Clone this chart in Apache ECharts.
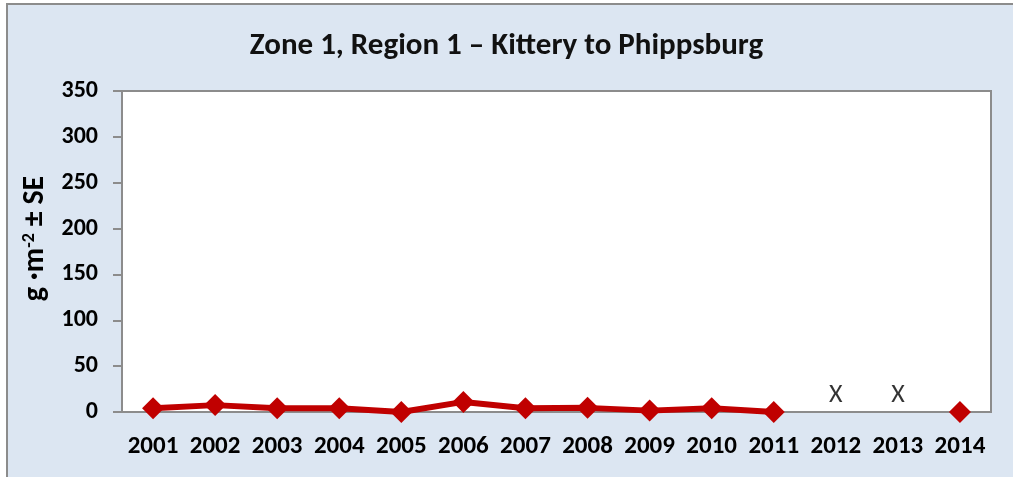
<!DOCTYPE html>
<html>
<head>
<meta charset="utf-8">
<script src="https://cdn.jsdelivr.net/npm/echarts@6/dist/echarts.min.js"></script>
<style>
html,body{margin:0;padding:0;background:#fff;}
#c{width:1013px;height:477px;}
</style>
</head>
<body>
<div id="c"></div>
<script>
const titleText = 'Zone 1, Region 1 \u2013 Kittery to Phippsburg';
const years = ['2001','2002','2003','2004','2005','2006','2007','2008','2009','2010','2011','2012','2013','2014'];
const biomass = [4, 7.5, 4, 4, 0, 11, 4, 4.5, 1.5, 4, 0, null, null, 0];
const noSampleMarks = [null, null, null, null, null, null, null, null, null, null, null, 18, 18, null];
const yTicks = [0, 50, 100, 150, 200, 250, 300, 350];

const FONT = 'Carlito, Lato, "Liberation Sans", sans-serif';
const chart = echarts.init(document.getElementById('c'), null, {renderer: 'canvas'});
chart.setOption({
  backgroundColor: '#ffffff',
  animation: false,
  graphic: [{
    type: 'rect', z: -10, silent: true,
    shape: {x: 7, y: 4, width: 1020, height: 490},
    style: {fill: '#DCE6F2', stroke: '#8C8C8C', lineWidth: 2}
  }],
  title: {
    text: titleText, left: 'center', top: 26,
    textStyle: {fontFamily: FONT, fontWeight: 'bold', fontSize: 31, color: '#111'}
  },
  grid: {left: 122, right: 22, top: 91, bottom: 65, show: true, backgroundColor: '#ffffff', borderColor: '#8C8C8C', borderWidth: 2},
  xAxis: {
    type: 'category', data: years, boundaryGap: true,
    axisLine: {show: true, lineStyle: {color: '#8C8C8C', width: 2}},
    axisTick: {show: false},
    axisLabel: {interval: 0, fontFamily: FONT, fontWeight: 'bold', fontSize: 25, color: '#000', margin: 22}
  },
  yAxis: {
    type: 'value', min: yTicks[0], max: yTicks[yTicks.length - 1], interval: 50,
    name: '{a|g \u00B7m}{s|-2}{a| \u00B1 SE}',
    nameLocation: 'middle', nameGap: 72, nameRotate: 90,
    nameTextStyle: {
      padding: [0, 0, 0, 26],
      rich: {
        a: {fontFamily: FONT, fontWeight: 'bold', fontSize: 30, color: '#000'},
        s: {fontFamily: FONT, fontWeight: 'bold', fontSize: 18, color: '#000', verticalAlign: 'top', padding: [0, 0, 12, 0]}
      }
    },
    axisLine: {show: true, lineStyle: {color: '#8C8C8C', width: 2}},
    axisTick: {show: true, inside: false, length: 9, lineStyle: {color: '#8C8C8C', width: 2}},
    splitLine: {show: false},
    axisLabel: {fontFamily: FONT, fontWeight: 'bold', fontSize: 24, color: '#000', margin: 24}
  },
  series: [{
    type: 'line', data: biomass, connectNulls: false,
    symbol: 'diamond', symbolSize: 22, showAllSymbol: true,
    lineStyle: {color: '#C00000', width: 6},
    itemStyle: {color: '#C00000'}
  }, {
    type: 'scatter', data: noSampleMarks, symbol: 'rect', symbolSize: 2,
    itemStyle: {color: 'rgba(0,0,0,0)'},
    label: {show: true, position: 'inside', formatter: 'X', fontFamily: FONT, fontSize: 26, color: '#000', textBorderWidth: 0}
  }]
});
</script>
</body>
</html>
